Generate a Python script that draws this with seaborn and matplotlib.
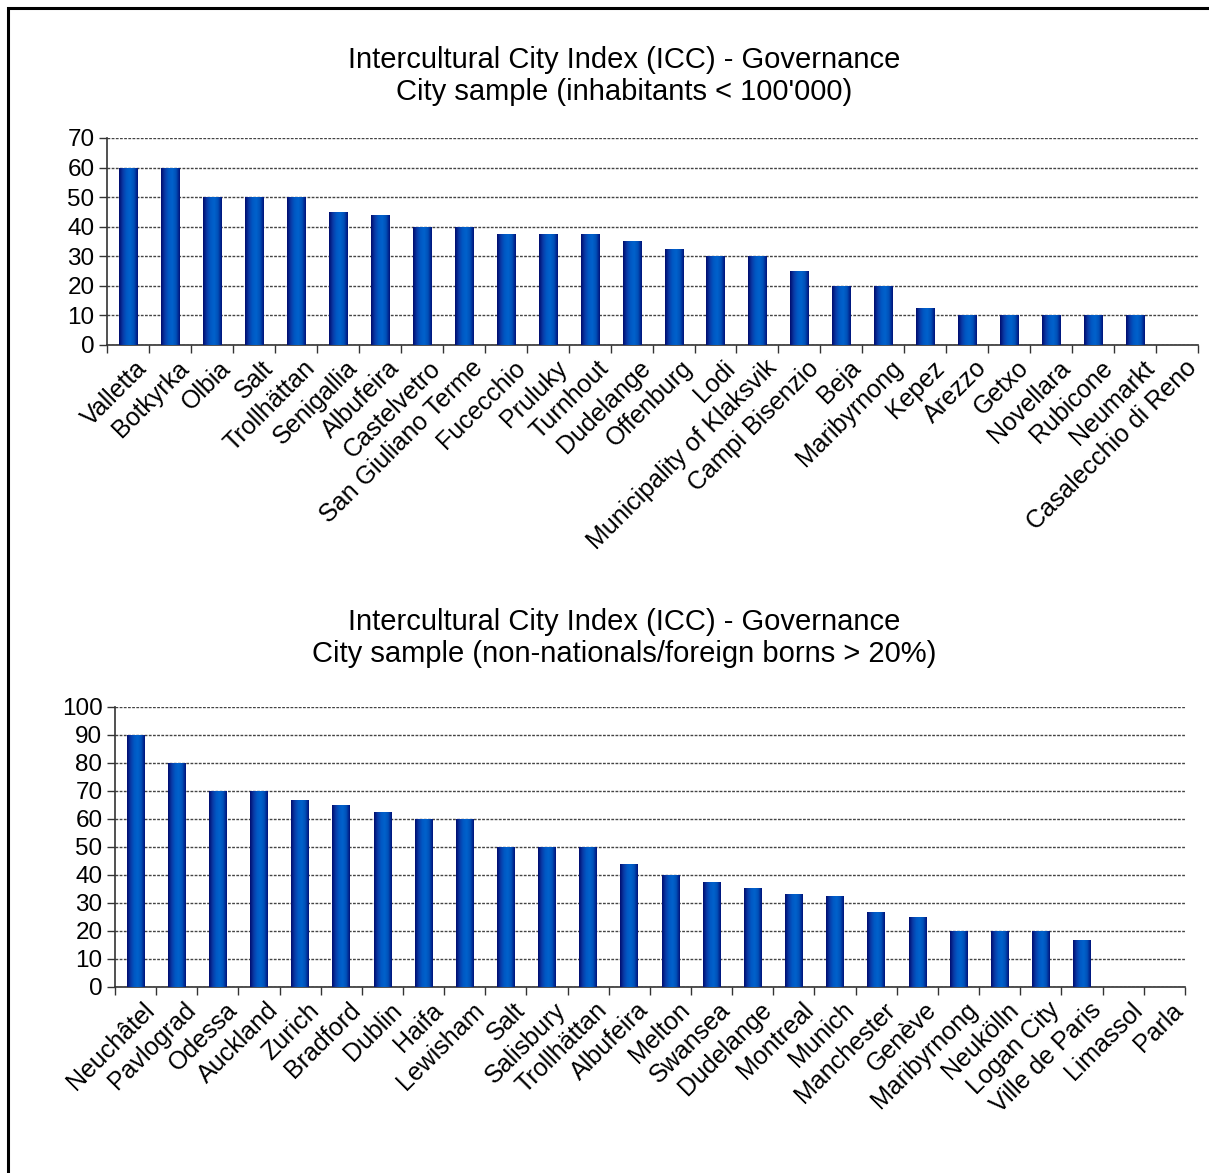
import numpy as np
import pandas as pd
import matplotlib
matplotlib.use("Agg")
import matplotlib.pyplot as plt
from matplotlib.colors import LinearSegmentedColormap
import seaborn as sns

# Governance scores, small-city sample
small_cities = ["Valletta", "Botkyrka", "Olbia", "Salt", "Trollhättan", "Senigallia",
                "Albufeira", "Castelvetro", "San Giuliano Terme", "Fucecchio", "Pruluky",
                "Turnhout", "Dudelange", "Offenburg", "Lodi", "Municipality of Klaksvik",
                "Campi Bisenzio", "Beja", "Maribyrnong", "Kepez", "Arezzo", "Getxo",
                "Novellara", "Rubicone", "Neumarkt", "Casalecchio di Reno"]
small_scores = [60, 60, 50, 50, 50, 45, 44, 40, 40, 37.5, 37.5, 37.5, 35, 32.5, 30, 30,
                25, 20, 20, 12.5, 10, 10, 10, 10, 10, 0]

# Governance scores, cities with a large foreign-born share
diverse_cities = ["Neuchâtel", "Pavlograd", "Odessa", "Auckland", "Zurich", "Bradford",
                  "Dublin", "Haifa", "Lewisham", "Salt", "Salisbury", "Trollhättan",
                  "Albufeira", "Melton", "Swansea", "Dudelange", "Montreal", "Munich",
                  "Manchester", "Genève", "Maribyrnong", "Neukölln", "Logan City",
                  "Ville de Paris", "Limassol", "Parla"]
diverse_scores = [90, 80, 70, 70, 66.7, 65, 62.5, 60, 60, 50, 50, 50, 44, 40, 37.5, 35.3,
                  33.3, 32.5, 26.7, 25, 20, 20, 20, 16.7, 0, 0]

top_title = "Intercultural City Index (ICC) - Governance\nCity sample (inhabitants < 100'000)"
bottom_title = ("Intercultural City Index (ICC) - Governance\n"
                "City sample (non-nationals/foreign borns > 20%)")

sns.set_theme(style="white")
plt.rcParams["font.family"] = ["Liberation Sans", "DejaVu Sans"]

fig = plt.figure(figsize=(12.09, 11.73), dpi=100)
fig.patch.set_facecolor("white")

bar_cmap = LinearSegmentedColormap.from_list(
    "cyl", ["#000c6e", "#0a3aa6", "#0058c4", "#0062cc", "#0050b8", "#00137a"])
grad = np.linspace(0, 1, 64).reshape(1, -1)


def draw_panel(ax, names, values, ymax, step, n_slots):
    df = pd.DataFrame({"city": names, "score": values})
    sns.barplot(data=df, x="city", y="score", ax=ax, color="#0050b8",
                width=0.43, saturation=1, edgecolor="none")
    # cylinder-style horizontal shading on each bar
    for p in list(ax.patches):
        x0, y0 = p.get_x(), p.get_y()
        w, h = p.get_width(), p.get_height()
        if h <= 0:
            continue
        p.set_facecolor("none")
        im = ax.imshow(grad, cmap=bar_cmap, aspect="auto",
                       extent=(x0, x0 + w, y0, y0 + h), zorder=3,
                       interpolation="bilinear")
        im.set_clip_path(p)
    ax.set_xlim(-0.5, n_slots - 0.5)
    ax.set_ylim(0, ymax)
    ax.set_yticks(np.arange(0, ymax + 1, step))
    ax.set_xticks(np.arange(-0.5, n_slots, 1.0), minor=True)
    ax.set_xlabel("")
    ax.set_ylabel("")
    ax.yaxis.grid(True, color="#444444", linestyle=(0, (2, 1)), linewidth=1.0)
    ax.set_axisbelow(True)
    for side in ("top", "right"):
        ax.spines[side].set_visible(False)
    for side in ("left", "bottom"):
        ax.spines[side].set_color("#333333")
        ax.spines[side].set_linewidth(1.2)
    ax.tick_params(axis="y", which="major", left=True, length=6, width=1.0,
                   color="#333333", labelsize=17.5, pad=3)
    ax.tick_params(axis="x", which="major", bottom=False, length=0, labelsize=18, pad=0)
    ax.tick_params(axis="x", which="minor", bottom=True, length=6, width=1.0,
                   color="#333333")
    ax.set_xticks(range(len(names)))
    ax.set_xticklabels(names, rotation=45, ha="right", rotation_mode="anchor")
    offset = matplotlib.transforms.ScaledTranslation(0.07, -0.11, fig.dpi_scale_trans)
    for lab in ax.get_xticklabels():
        lab.set_transform(lab.get_transform() + offset)
        lab.set_color("black")
    for lab in ax.get_yticklabels():
        lab.set_color("black")


ax1 = fig.add_axes([0.0885, 0.7059, 0.9025, 0.1765])
draw_panel(ax1, small_cities, small_scores, 70, 10, len(small_cities))

ax2 = fig.add_axes([0.0951, 0.1586, 0.8849, 0.2387])
draw_panel(ax2, diverse_cities, diverse_scores, 100, 10, len(diverse_cities))

fig.text(0.516, 1 - 76 / 1173, top_title, ha="center", va="center", fontsize=21,
         linespacing=1.2, color="black")
fig.text(0.516, 1 - 638 / 1173, bottom_title, ha="center", va="center", fontsize=21,
         linespacing=1.2, color="black")

# outer frame of the chart area
frame = plt.Rectangle((7.5 / 1209, -0.05), 1.2, 1 - 7.5 / 1173 + 0.05,
                      transform=fig.transFigure, fill=False, edgecolor="black",
                      linewidth=2.2, clip_on=False)
fig.patches.append(frame)

fig.savefig("out.png", dpi=100)
